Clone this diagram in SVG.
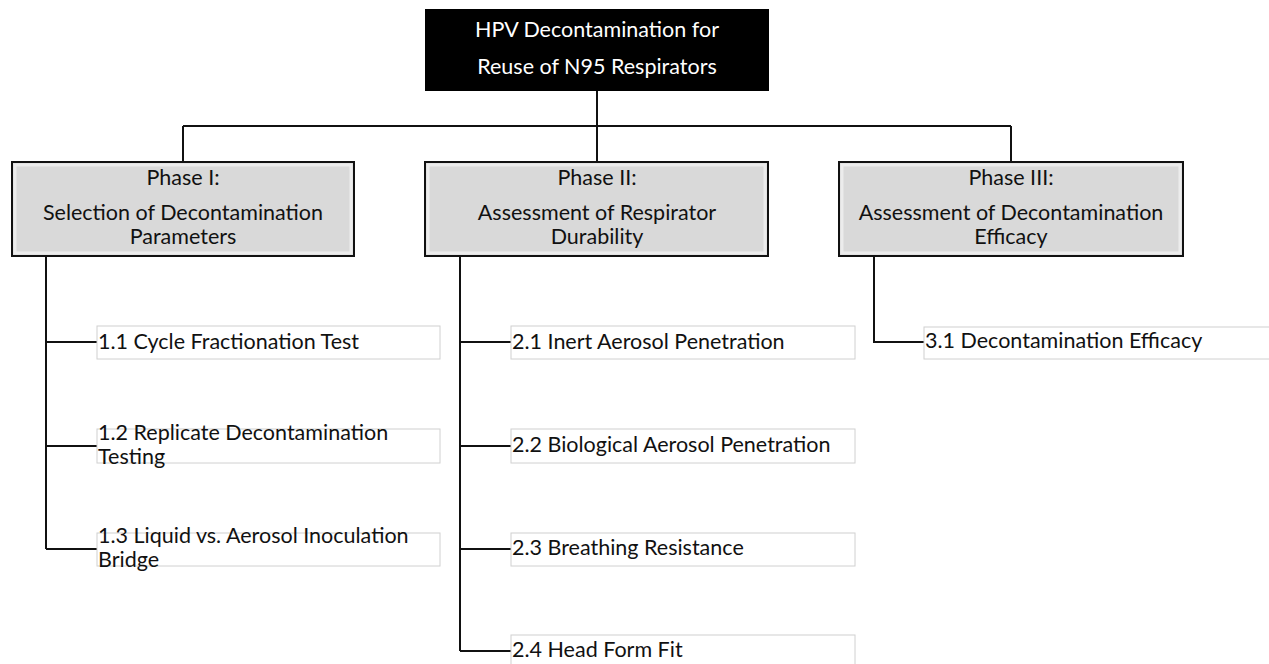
<svg xmlns="http://www.w3.org/2000/svg" width="1269" height="664" viewBox="0 0 1269 664">
<style>
.t{font-family:Lato,"Open Sans",sans-serif;font-size:21.5px;fill:#111}
.w{font-family:Lato,"Open Sans",sans-serif;font-size:21.5px;fill:#fff}
.c{text-anchor:middle}
.ph{fill:#d9d9d9;stroke:#111;stroke-width:2}
.phi{fill:none;stroke:#ececec;stroke-width:3}
.ch{fill:#fff;stroke:#d0d0d0;stroke-width:1}
.ln{fill:none;stroke:#111;stroke-width:2}
</style>
<rect width="1269" height="664" fill="#fff"/>
<g id="connectors">
<path class="ln" d="M597 91V126M183 126H1011M183 126V162M597 126V162M1011 126V162"/>
<path class="ln" d="M46 256V549M46 342H97M46 446H97M46 549H97"/>
<path class="ln" d="M460 256V651M460 342H511M460 446H511M460 549H511M460 651H511"/>
<path class="ln" d="M874 256V342H924"/>
</g>
<g id="root">
<rect x="425" y="9" width="344" height="82" fill="#000"/>
<text class="w c" x="597" y="37">HPV Decontamination for</text>
<text class="w c" x="597" y="74">Reuse of N95 Respirators</text>
</g>
<g id="phase1">
<rect class="ph" x="12" y="162" width="342" height="94"/>
<rect class="phi" x="15" y="165" width="336" height="88"/>
<text class="t c" x="183" y="185">Phase I:</text>
<text class="t c" x="183" y="220">Selection of Decontamination</text>
<text class="t c" x="183" y="244">Parameters</text>
</g>
<g id="phase2">
<rect class="ph" x="425" y="162" width="343" height="94"/>
<rect class="phi" x="428" y="165" width="337" height="88"/>
<text class="t c" x="597" y="185">Phase II:</text>
<text class="t c" x="597" y="220">Assessment of Respirator</text>
<text class="t c" x="597" y="244">Durability</text>
</g>
<g id="phase3">
<rect class="ph" x="839" y="162" width="344" height="94"/>
<rect class="phi" x="842" y="165" width="338" height="88"/>
<text class="t c" x="1011" y="185">Phase III:</text>
<text class="t c" x="1011" y="220">Assessment of Decontamination</text>
<text class="t c" x="1011" y="244">Efficacy</text>
</g>
<g id="n1-1">
<rect class="ch" x="97" y="326" width="343" height="33"/>
<text class="t" x="98" y="349">1.1 Cycle Fractionation Test</text>
</g>
<g id="n1-2">
<rect class="ch" x="97" y="429" width="343" height="34"/>
<text class="t" x="98" y="440">1.2 Replicate Decontamination</text>
<text class="t" x="98" y="464">Testing</text>
</g>
<g id="n1-3">
<rect class="ch" x="97" y="533" width="343" height="33"/>
<text class="t" x="98" y="543">1.3 Liquid vs. Aerosol Inoculation</text>
<text class="t" x="98" y="567">Bridge</text>
</g>
<g id="n2-1">
<rect class="ch" x="511" y="326" width="344" height="33"/>
<text class="t" x="512" y="349">2.1 Inert Aerosol Penetration</text>
</g>
<g id="n2-2">
<rect class="ch" x="511" y="429" width="344" height="34"/>
<text class="t" x="512" y="452">2.2 Biological Aerosol Penetration</text>
</g>
<g id="n2-3">
<rect class="ch" x="511" y="533" width="344" height="33"/>
<text class="t" x="512" y="555">2.3 Breathing Resistance</text>
</g>
<g id="n2-4">
<rect class="ch" x="511" y="635" width="344" height="34"/>
<text class="t" x="512" y="657">2.4 Head Form Fit</text>
</g>
<g id="n3-1">
<rect class="ch" x="924" y="327" width="350" height="32"/>
<text class="t" x="925" y="348">3.1 Decontamination Efficacy</text>
</g>
</svg>
